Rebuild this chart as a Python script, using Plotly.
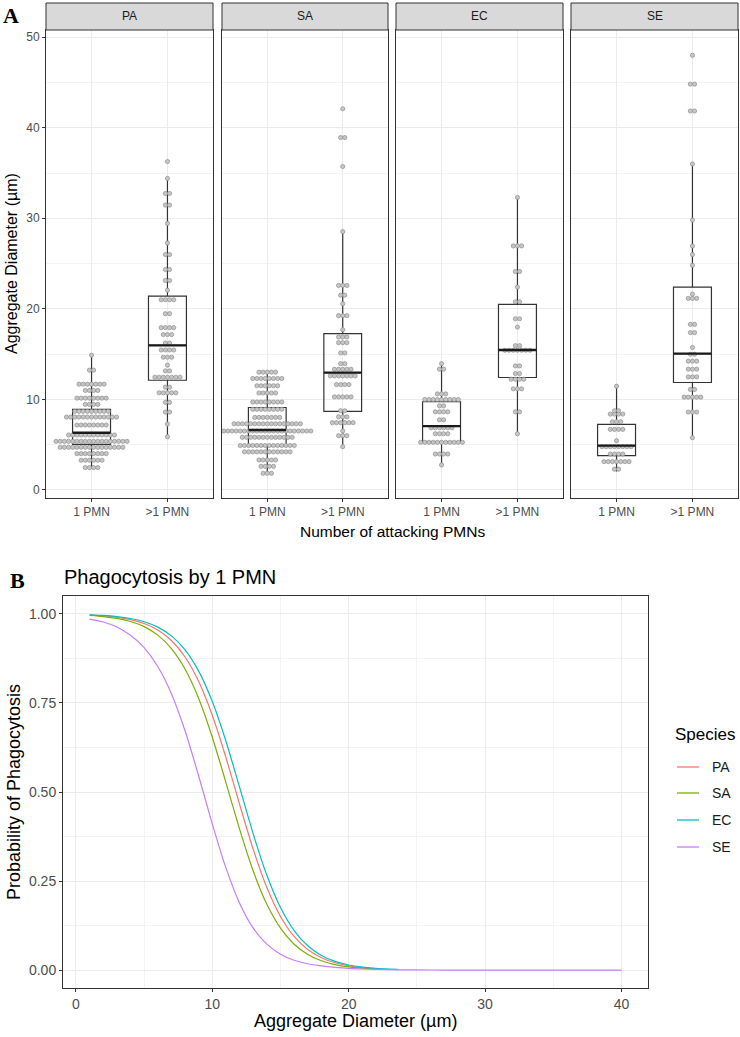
import plotly.graph_objects as go

# ---------------- DATA ----------------
species = ["PA", "SA", "EC", "SE"]
groups = ["1 PMN", ">1 PMN"]
line_colors = ["#F8766D", "#7CAE00", "#00BFC4", "#C77CFF"]

# Panel A: dot-plot bins (aggregate diameter, µm) and number of dots in each bin
PA_1_bins = [2.46, 3.27, 4.00, 4.70, 5.36, 6.06, 7.16, 8.04, 8.67, 9.44, 10.13, 10.98, 11.67, 13.22, 14.87]
PA_1_counts = [4, 6, 8, 16, 18, 12, 8, 13, 9, 4, 8, 4, 7, 2, 1]
PA_2_bins = [5.87, 7.27, 8.59, 9.66, 10.72, 11.34, 12.44, 13.14, 13.77, 14.65, 15.45, 16.22, 17.15, 17.92,
             19.46, 21.0, 22.06, 23.13, 24.34, 25.99, 27.27, 29.43, 31.46, 32.74, 34.4, 36.27]
PA_2_counts = [1, 1, 2, 2, 5, 2, 7, 2, 1, 3, 4, 2, 3, 4, 2, 4, 1, 2, 2, 2, 1, 1, 2, 2, 1, 1]

SA_1_bins = [1.83, 2.6, 3.3, 4.2, 4.9, 5.8, 6.5, 7.3, 8.0, 8.9, 9.7, 10.7, 11.5, 12.3, 13.0]
SA_1_counts = [3, 4, 5, 12, 14, 13, 22, 17, 7, 8, 8, 5, 6, 8, 5]
SA_2_bins = [4.77, 5.98, 6.5, 7.42, 8.07, 8.74, 10.27, 11.63, 12.59, 13.32, 13.94, 15.12, 16.26, 16.89,
             17.69, 19.24, 20.56, 21.51, 22.58, 28.53, 35.72, 38.92, 42.1]
SA_2_counts = [1, 3, 1, 6, 3, 2, 5, 4, 7, 5, 2, 2, 3, 3, 1, 3, 1, 2, 3, 1, 1, 2, 1]

EC_1_bins = [2.75, 3.96, 5.25, 6.2, 6.86, 7.74, 8.62, 9.28, 9.98, 10.6, 13.33, 13.95]
EC_1_counts = [1, 4, 11, 4, 6, 2, 4, 2, 9, 3, 2, 1]
EC_2_bins = [6.2, 8.62, 11.16, 12.22, 12.85, 13.69, 15.42, 15.93, 17.98, 18.9, 20.78, 22.39, 24.12, 26.95, 32.3]
EC_2_counts = [1, 2, 3, 4, 2, 2, 7, 2, 1, 2, 2, 1, 2, 3, 1]

SE_1_bins = [2.28, 3.12, 3.96, 4.77, 5.43, 6.68, 7.52, 8.37, 8.74, 11.45]
SE_1_counts = [2, 7, 4, 8, 1, 4, 3, 4, 2, 1]
SE_2_bins = [5.76, 8.59, 10.24, 11.09, 12.48, 13.33, 14.21, 14.98, 15.72, 17.37, 18.28, 21.15, 21.62,
             24.81, 25.99, 26.94, 29.8, 36.0, 41.85, 44.82, 48.0]
SE_2_counts = [1, 3, 5, 2, 3, 3, 3, 2, 1, 2, 2, 3, 1, 1, 1, 1, 1, 1, 2, 2, 1]

dot_bins = {"PA": (PA_1_bins, PA_2_bins), "SA": (SA_1_bins, SA_2_bins),
            "EC": (EC_1_bins, EC_2_bins), "SE": (SE_1_bins, SE_2_bins)}
dot_counts = {"PA": (PA_1_counts, PA_2_counts), "SA": (SA_1_counts, SA_2_counts),
              "EC": (EC_1_counts, EC_2_counts), "SE": (SE_1_counts, SE_2_counts)}

# Box statistics per species: [1 PMN, >1 PMN]
box_lower = {"PA": [2.4, 5.87], "SA": [1.7, 4.77], "EC": [2.75, 6.2], "SE": [2.02, 5.76]}
box_q1 = {"PA": [5.03, 12.11], "SA": [4.85, 8.66], "EC": [5.32, 12.41], "SE": [3.78, 11.86]}
box_median = {"PA": [6.31, 15.97], "SA": [6.61, 12.96], "EC": [7.05, 15.45], "SE": [4.88, 15.05]}
box_q3 = {"PA": [8.88, 21.4], "SA": [9.1, 17.26], "EC": [9.73, 20.48], "SE": [7.24, 22.39]}
box_upper = {"PA": [14.87, 34.4], "SA": [13.0, 28.53], "EC": [13.95, 32.3], "SE": [11.45, 36.0]}

# Panel B: probability of phagocytosis vs aggregate diameter
PA_diam = [1, 2, 3, 4, 5, 6, 7, 8, 9, 10, 11, 12, 13, 14, 15, 16, 17, 18, 19, 20, 21, 22]
PA_prob = [0.9966, 0.9943, 0.9904, 0.9837, 0.9727, 0.9545, 0.9250, 0.8789, 0.8103, 0.7155, 0.5968,
           0.4655, 0.3390, 0.2318, 0.1508, 0.0947, 0.0580, 0.0350, 0.0209, 0.0124, 0.0073, 0.0043]
SA_diam = [1, 2, 3, 4, 5, 6, 7, 8, 9, 10, 11, 12, 13, 14, 15, 16, 17, 18, 19, 20, 21, 22]
SA_prob = [0.9955, 0.9924, 0.9872, 0.9785, 0.9640, 0.9402, 0.9025, 0.8450, 0.7624, 0.6538, 0.5265,
           0.3956, 0.2781, 0.1848, 0.1178, 0.0728, 0.0442, 0.0265, 0.0158, 0.0094, 0.0055, 0.0033]
EC_diam = [1, 2, 3, 4, 5, 6, 7, 8, 9, 10, 11, 12, 13, 14, 15, 16, 17, 18, 19, 20, 21, 22, 23, 23.6]
EC_prob = [0.9973, 0.9954, 0.9922, 0.9868, 0.9778, 0.9627, 0.9381, 0.8989, 0.8391, 0.7538, 0.6425,
           0.5133, 0.3822, 0.2664, 0.1757, 0.1112, 0.0684, 0.0413, 0.0246, 0.0146, 0.0086, 0.0051,
           0.0030, 0.0022]
SE_diam = [1, 2, 3, 4, 5, 6, 7, 8, 9, 10, 11, 12, 13, 14, 15, 16, 17, 18, 19, 20, 21, 22,
           24, 26, 28, 30, 32, 34, 36, 38, 40]
SE_prob = [0.985, 0.977, 0.963, 0.940, 0.905, 0.852, 0.776, 0.672, 0.545, 0.410, 0.287,
           0.188, 0.118, 0.073, 0.045, 0.028, 0.018, 0.012, 0.008, 0.005, 0.0033, 0.0022,
           0.0010, 0.0005, 0.0002, 0.0001, 0.0, 0.0, 0.0, 0.0, 0.0]
curve_x = {"PA": PA_diam, "SA": SA_diam, "EC": EC_diam, "SE": SE_diam}
curve_y = {"PA": PA_prob, "SA": SA_prob, "EC": EC_prob, "SE": SE_prob}

# ---------------- LAYOUT HELPERS ----------------
W, H = 740, 1037
def fx(p):
    return p / W
def fy(p):
    return 1 - p / H

FONT = "Liberation Sans, Arial, sans-serif"
PANEL_X = [(46, 213), (222, 388), (396, 563), (571, 738)]
PANEL_Y = (30, 498)
STRIP_Y = (3, 30)
DOT_STEP = 0.055
BOX_W = 0.5

fig = go.Figure()

# ---------------- PANEL A ----------------
for k, sp in enumerate(species):
    xa = "x" if k == 0 else f"x{k + 1}"
    ya = "y" if k == 0 else f"y{k + 1}"
    for gi in range(2):
        c = gi + 1
        fig.add_trace(go.Box(
            x=[c], q1=[box_q1[sp][gi]], median=[box_median[sp][gi]], q3=[box_q3[sp][gi]],
            lowerfence=[box_lower[sp][gi]], upperfence=[box_upper[sp][gi]],
            width=BOX_W, whiskerwidth=0, boxpoints=False,
            fillcolor="rgba(0,0,0,0)", line=dict(color="#333333", width=1.2),
            xaxis=xa, yaxis=ya, showlegend=False, hoverinfo="skip"))
    for gi in range(2):
        c = gi + 1
        xs, ys = [], []
        for v, n in zip(dot_bins[sp][gi], dot_counts[sp][gi]):
            for i in range(n):
                xs.append(c + (i - (n - 1) / 2) * DOT_STEP)
                ys.append(v)
        fig.add_trace(go.Scatter(
            x=xs, y=ys, mode="markers",
            marker=dict(size=4.2, color="#c6c6c6", line=dict(color="#8e8e8e", width=0.7)),
            xaxis=xa, yaxis=ya, showlegend=False, hoverinfo="skip"))
    for gi in range(2):
        c = gi + 1
        m = box_median[sp][gi]
        fig.add_trace(go.Scatter(
            x=[c - BOX_W / 2, c + BOX_W / 2], y=[m, m], mode="lines",
            line=dict(color="#1a1a1a", width=2.3),
            xaxis=xa, yaxis=ya, showlegend=False, hoverinfo="skip"))

# ---------------- PANEL B ----------------
for sp, col in zip(species, line_colors):
    fig.add_trace(go.Scatter(
        x=curve_x[sp], y=curve_y[sp], mode="lines", name=sp, showlegend=False,
        line=dict(color=col, width=1.2, shape="spline", smoothing=0.6),
        xaxis="x5", yaxis="y5", hoverinfo="skip"))

layout = dict(
    width=W, height=H, margin=dict(l=0, r=0, t=0, b=0),
    paper_bgcolor="white", plot_bgcolor="white",
    font=dict(family=FONT, color="#000000"),
    showlegend=False,
)

for k, sp in enumerate(species):
    xkey = "xaxis" if k == 0 else f"xaxis{k + 1}"
    ykey = "yaxis" if k == 0 else f"yaxis{k + 1}"
    yref = "y" if k == 0 else f"y{k + 1}"
    x0, x1 = PANEL_X[k]
    layout[xkey] = dict(
        domain=[fx(x0), fx(x1)], range=[0.4, 2.6], anchor=yref,
        tickmode="array", tickvals=[1, 2], ticktext=groups,
        showgrid=True, gridcolor="#ebebeb", gridwidth=1, zeroline=False,
        showline=True, mirror=True, linecolor="#333333", linewidth=1,
        ticks="outside", ticklen=3, tickcolor="#333333",
        tickfont=dict(size=12, color="#4d4d4d", family=FONT), automargin=False, fixedrange=True)
    layout[ykey] = dict(
        domain=[fy(PANEL_Y[1]), fy(PANEL_Y[0])], range=[-0.9, 50.8],
        anchor="x" if k == 0 else f"x{k + 1}",
        tick0=0, dtick=10, tickmode="linear",
        showgrid=True, gridcolor="#ebebeb", gridwidth=1, zeroline=False,
        minor=dict(dtick=5, tick0=0, showgrid=True, gridcolor="#f3f3f3", gridwidth=1, ticks=""),
        showline=True, mirror=True, linecolor="#333333", linewidth=1,
        ticks="outside" if k == 0 else "", ticklen=3, tickcolor="#333333",
        showticklabels=(k == 0),
        tickfont=dict(size=12, color="#4d4d4d", family=FONT), automargin=False, fixedrange=True)
    if k > 0:
        layout[ykey]["matches"] = "y"

layout["xaxis5"] = dict(
    domain=[fx(63), fx(648)], range=[-0.95, 41.95], anchor="y5",
    tickmode="linear", tick0=0, dtick=10,
    showgrid=True, gridcolor="#ebebeb", gridwidth=1, zeroline=False,
    minor=dict(dtick=5, tick0=0, showgrid=True, gridcolor="#f3f3f3", gridwidth=1, ticks=""),
    showline=True, mirror=True, linecolor="#333333", linewidth=1,
    ticks="outside", ticklen=3, tickcolor="#333333",
    tickfont=dict(size=14, color="#4d4d4d", family=FONT), automargin=False, fixedrange=True)
layout["yaxis5"] = dict(
    domain=[fy(988), fy(596)], range=[-0.05, 1.05], anchor="x5",
    tickmode="linear", tick0=0, dtick=0.25, tickformat=".2f",
    showgrid=True, gridcolor="#ebebeb", gridwidth=1, zeroline=False,
    minor=dict(dtick=0.125, tick0=0, showgrid=True, gridcolor="#f3f3f3", gridwidth=1, ticks=""),
    showline=True, mirror=True, linecolor="#333333", linewidth=1,
    ticks="outside", ticklen=3, tickcolor="#333333",
    tickfont=dict(size=14, color="#4d4d4d", family=FONT), automargin=False, fixedrange=True)

shapes = []
annotations = []
for k, sp in enumerate(species):
    x0, x1 = PANEL_X[k]
    shapes.append(dict(type="rect", xref="paper", yref="paper",
                       x0=fx(x0), x1=fx(x1), y0=fy(STRIP_Y[1]), y1=fy(STRIP_Y[0]),
                       fillcolor="#d9d9d9", line=dict(color="#333333", width=1), layer="above"))
    annotations.append(dict(text=sp, xref="paper", yref="paper", x=fx((x0 + x1) / 2),
                            y=fy((STRIP_Y[0] + STRIP_Y[1]) / 2), showarrow=False,
                            xanchor="center", yanchor="middle",
                            font=dict(size=12, color="#1a1a1a", family=FONT)))

def note(text, x, y, size, color="#000000", family=FONT, angle=0, xanchor="center", bold=False):
    annotations.append(dict(text=f"<b>{text}</b>" if bold else text, xref="paper", yref="paper",
                            x=fx(x), y=fy(y), showarrow=False, textangle=angle,
                            xanchor=xanchor, yanchor="middle",
                            font=dict(size=size, color=color, family=family)))

note("A", 1, 16, 22, family="Liberation Serif, Times New Roman, serif", xanchor="left", bold=True)
note("B", 8, 580, 22, family="Liberation Serif, Times New Roman, serif", xanchor="left", bold=True)
note("Aggregate Diameter (µm)", 12, 264, 16, angle=-90)
note("Number of attacking PMNs", 392, 531, 15.5)
note("Phagocytosis by 1 PMN", 62, 577, 20, xanchor="left")
note("Probability of Phagocytosis", 14, 792, 18, angle=-90)
note("Aggregate Diameter (µm)", 355, 1021, 18)

# Legend for panel B (drawn as guide elements)
note("Species", 673, 734, 17, xanchor="left")
legend_rows = [767, 793, 820, 847]
for sp, col, yy in zip(species, line_colors, legend_rows):
    shapes.append(dict(type="line", xref="paper", yref="paper",
                       x0=fx(677), x1=fx(699), y0=fy(yy), y1=fy(yy),
                       line=dict(color=col, width=1.3)))
    note(sp, 710, yy, 14, color="#1a1a1a", xanchor="left")

layout["shapes"] = shapes
layout["annotations"] = annotations
fig.update_layout(**layout)

fig.write_html("out.html", config={"displayModeBar": False},
               post_script="document.body.style.margin='0px';document.body.style.overflow='hidden';")
